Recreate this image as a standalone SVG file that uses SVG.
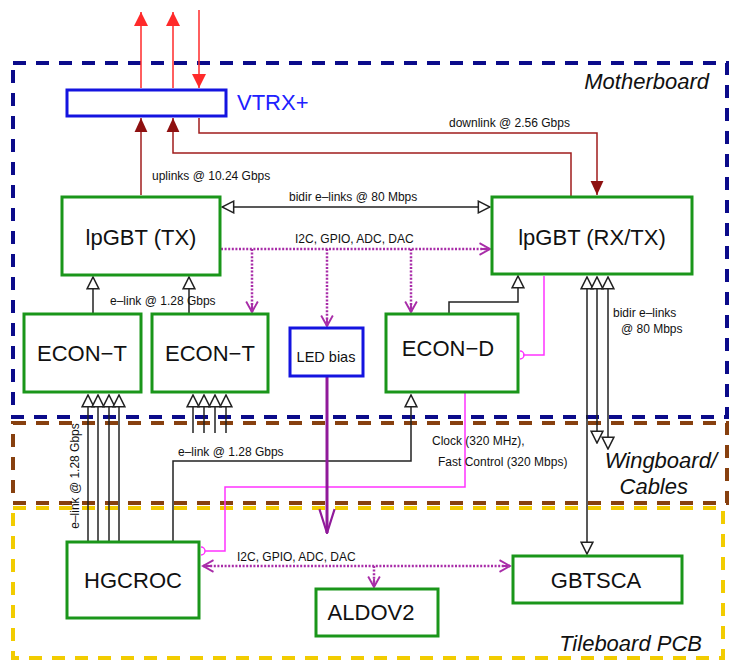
<svg xmlns="http://www.w3.org/2000/svg" width="729" height="662" viewBox="0 0 729 662">
<style>
  .bg{fill:#ffffff}
  .region{fill:none;stroke-width:4;stroke-dasharray:13,10}
  .mb{stroke:#0b0b8a}
  .wb{stroke:#87400f}
  .tb{stroke:#f2cc00}
  .gbox{fill:#ffffff;stroke:#1a961a;stroke-width:3}
  .bbox{fill:#ffffff;stroke:#1414e0;stroke-width:3}
  .t{font-family:"Liberation Sans",Arial,sans-serif;fill:#111111}
  .big{font-size:22px;text-anchor:middle}
  .small{font-size:12px}
  .reg{font-family:"Liberation Sans",Arial,sans-serif;font-style:italic;font-size:22px;fill:#111111}
  .blk{fill:none;stroke:#222222;stroke-width:1.5}
  .red{fill:none;stroke:#ff2a2a;stroke-width:1.5}
  .dred{fill:none;stroke:#a01c1c;stroke-width:1.5}
  .mag{fill:none;stroke:#ff33ff;stroke-width:1.5}
  .dot{fill:none;stroke:#a82ca8;stroke-width:2.5;stroke-dasharray:2,1.6}
  .led{fill:none;stroke:#901a9a;stroke-width:3}
</style>
<defs>
  <marker id="open" markerUnits="userSpaceOnUse" markerWidth="14" markerHeight="14" viewBox="-1 -1 12 12" refX="10" refY="5" orient="auto-start-reverse">
    <path d="M0,0 L10,5 L0,10 Z" fill="#ffffff" stroke="#222222" stroke-width="1.3"/>
  </marker>
  <marker id="redA" markerUnits="userSpaceOnUse" markerWidth="14" markerHeight="14" viewBox="0 0 12 12" refX="12" refY="6" orient="auto">
    <path d="M0,0 L12,6 L0,12 Z" fill="#ff2a2a"/>
  </marker>
  <marker id="dredA" markerUnits="userSpaceOnUse" markerWidth="14" markerHeight="14" viewBox="0 0 12 12" refX="12" refY="6" orient="auto">
    <path d="M0,0.5 L12,6 L0,11.5 Z" fill="#8e1010"/>
  </marker>
  <marker id="chev" markerUnits="userSpaceOnUse" markerWidth="14" markerHeight="14" viewBox="-1 -1 12 12" refX="9" refY="5" orient="auto-start-reverse">
    <path d="M0,0 L9,5 L0,10 M2,5 L7,5" fill="none" stroke="#a82ca8" stroke-width="1.6"/>
  </marker>
  <marker id="ledA" markerUnits="userSpaceOnUse" markerWidth="26" markerHeight="18" viewBox="-1 -1 24 16" refX="22" refY="7" orient="auto">
    <path d="M0,0 L22,7 L0,14" fill="none" stroke="#901a9a" stroke-width="2"/>
  </marker>
</defs>
<rect class="bg" x="0" y="0" width="729" height="662"/>

<g id="regions">
  <rect id="motherboard" class="region mb" x="13" y="63" width="714" height="354"/>
  <rect id="wingboard" class="region wb" x="13" y="423" width="714" height="80"/>
  <rect id="tileboard" class="region tb" x="13" y="508" width="710" height="150"/>
  <text class="reg" x="709" y="89" text-anchor="end">Motherboard</text>
  <text class="reg" x="717" y="468" text-anchor="end" font-size="21">Wingboard/</text>
  <text class="reg" x="688" y="494" text-anchor="end" font-size="21">Cables</text>
  <text class="reg" x="702" y="651" text-anchor="end">Tileboard PCB</text>
</g>

<g id="connectors">
  <path class="red" d="M141,88 L141,12" marker-end="url(#redA)"/>
  <path class="red" d="M173,88 L173,12" marker-end="url(#redA)"/>
  <path class="red" d="M199,10 L199,88" marker-end="url(#redA)"/>
  <path class="dred" d="M141,195 L141,118" marker-end="url(#dredA)"/>
  <path class="dred" d="M571,196 L571,153 L173,153 L173,118" marker-end="url(#dredA)"/>
  <path class="dred" d="M199,118 L199,133 L597,133 L597,195" marker-end="url(#dredA)"/>
  <path class="blk" d="M222,207 L490,207" marker-start="url(#open)" marker-end="url(#open)"/>
  <path class="dot" d="M221,249 L490,249" marker-end="url(#chev)"/>
  <path class="dot" d="M252,249 L252,312" marker-end="url(#chev)"/>
  <path class="dot" d="M327,249 L327,326" marker-end="url(#chev)"/>
  <path class="dot" d="M411,249 L411,312" marker-end="url(#chev)"/>
  <path class="blk" d="M93,313 L93,277" marker-end="url(#open)"/>
  <path class="blk" d="M189,313 L189,277" marker-end="url(#open)"/>
  <path class="blk" d="M449,313 L449,302 L518,302 L518,276" marker-end="url(#open)"/>
  <path class="mag" d="M544,276 L544,355 L523,355 M520,351 A4,4 0 0 1 520,359"/>
  <path class="blk" d="M88,541 L88,395" marker-end="url(#open)"/>
  <path class="blk" d="M98,541 L98,395" marker-end="url(#open)"/>
  <path class="blk" d="M109,541 L109,395" marker-end="url(#open)"/>
  <path class="blk" d="M119,541 L119,395" marker-end="url(#open)"/>
  <path class="blk" d="M193,433 L193,395" marker-end="url(#open)"/>
  <path class="blk" d="M204,433 L204,395" marker-end="url(#open)"/>
  <path class="blk" d="M215,433 L215,395" marker-end="url(#open)"/>
  <path class="blk" d="M226,433 L226,395" marker-end="url(#open)"/>
  <path class="blk" d="M173,541 L173,461 L411,461 L411,395" marker-end="url(#open)"/>
  <path class="mag" d="M465,393 L465,487 L225,487 L225,551 L205,551 M201,547 A4,4 0 0 1 201,555"/>
  <path class="led" d="M327,377 L327,533" marker-end="url(#ledA)"/>
  <path class="blk" d="M587,554 L587,277" marker-start="url(#open)" marker-end="url(#open)"/>
  <path class="blk" d="M597,443 L597,277" marker-start="url(#open)" marker-end="url(#open)"/>
  <path class="blk" d="M608,449 L608,277" marker-start="url(#open)" marker-end="url(#open)"/>
  <path class="dot" d="M203,566 L510,566" marker-start="url(#chev)" marker-end="url(#chev)"/>
  <path class="dot" d="M374,566 L374,587" marker-end="url(#chev)"/>
  <text class="t small" x="152" y="180">uplinks @ 10.24 Gbps</text>
  <text class="t small" x="449" y="127">downlink @ 2.56 Gbps</text>
  <text class="t small" x="289" y="201">bidir e–links @ 80 Mbps</text>
  <text class="t small" x="295" y="243">I2C, GPIO, ADC, DAC</text>
  <text class="t small" x="110" y="305">e–link @ 1.28 Gbps</text>
  <text class="t small" x="613" y="317">bidir e–links</text>
  <text class="t small" x="621" y="333">@ 80 Mbps</text>
  <text class="t small" x="79" y="476" text-anchor="middle" transform="rotate(-90 79 476)">e–link @ 1.28 Gbps</text>
  <text class="t small" x="178" y="456">e–link @ 1.28 Gbps</text>
  <text class="t small" x="432" y="445">Clock (320 MHz),</text>
  <text class="t small" x="438" y="466">Fast Control (320 Mbps)</text>
  <text class="t small" x="237" y="561">I2C, GPIO, ADC, DAC</text>
</g>

<g id="vtrx">
  <rect class="bbox" x="67" y="90" width="159" height="26"/>
  <text x="237" y="110" font-family="Liberation Sans, Arial, sans-serif" font-size="22" fill="#2020ff">VTRX+</text>
</g>
<g id="lpgbt-tx">
  <rect class="gbox" x="62" y="197" width="158" height="78"/>
  <text class="t big" x="141" y="245">lpGBT (TX)</text>
</g>
<g id="lpgbt-rxtx">
  <rect class="gbox" x="492" y="197" width="200" height="77"/>
  <text class="t big" x="592" y="245">lpGBT (RX/TX)</text>
</g>
<g id="econ-t-1">
  <rect class="gbox" x="24" y="314" width="117" height="78"/>
  <text class="t big" x="82" y="361">ECON−T</text>
</g>
<g id="econ-t-2">
  <rect class="gbox" x="152" y="314" width="116" height="78"/>
  <text class="t big" x="210" y="361">ECON−T</text>
</g>
<g id="led-bias">
  <rect class="bbox" x="290" y="328" width="73" height="48"/>
  <text class="t" x="326" y="362" font-size="14.5" text-anchor="middle">LED bias</text>
</g>
<g id="econ-d">
  <rect class="gbox" x="386" y="314" width="132" height="78"/>
  <text class="t big" x="448" y="356">ECON−D</text>
</g>
<g id="hgcroc">
  <rect class="gbox" x="67" y="542" width="132" height="76"/>
  <text class="t big" x="133" y="588">HGCROC</text>
</g>
<g id="aldov2">
  <rect class="gbox" x="316" y="589" width="122" height="47"/>
  <text class="t big" x="371" y="620">ALDOV2</text>
</g>
<g id="gbtsca">
  <rect class="gbox" x="513" y="556" width="169" height="47"/>
  <text class="t big" x="596" y="588">GBTSCA</text>
</g>
</svg>
